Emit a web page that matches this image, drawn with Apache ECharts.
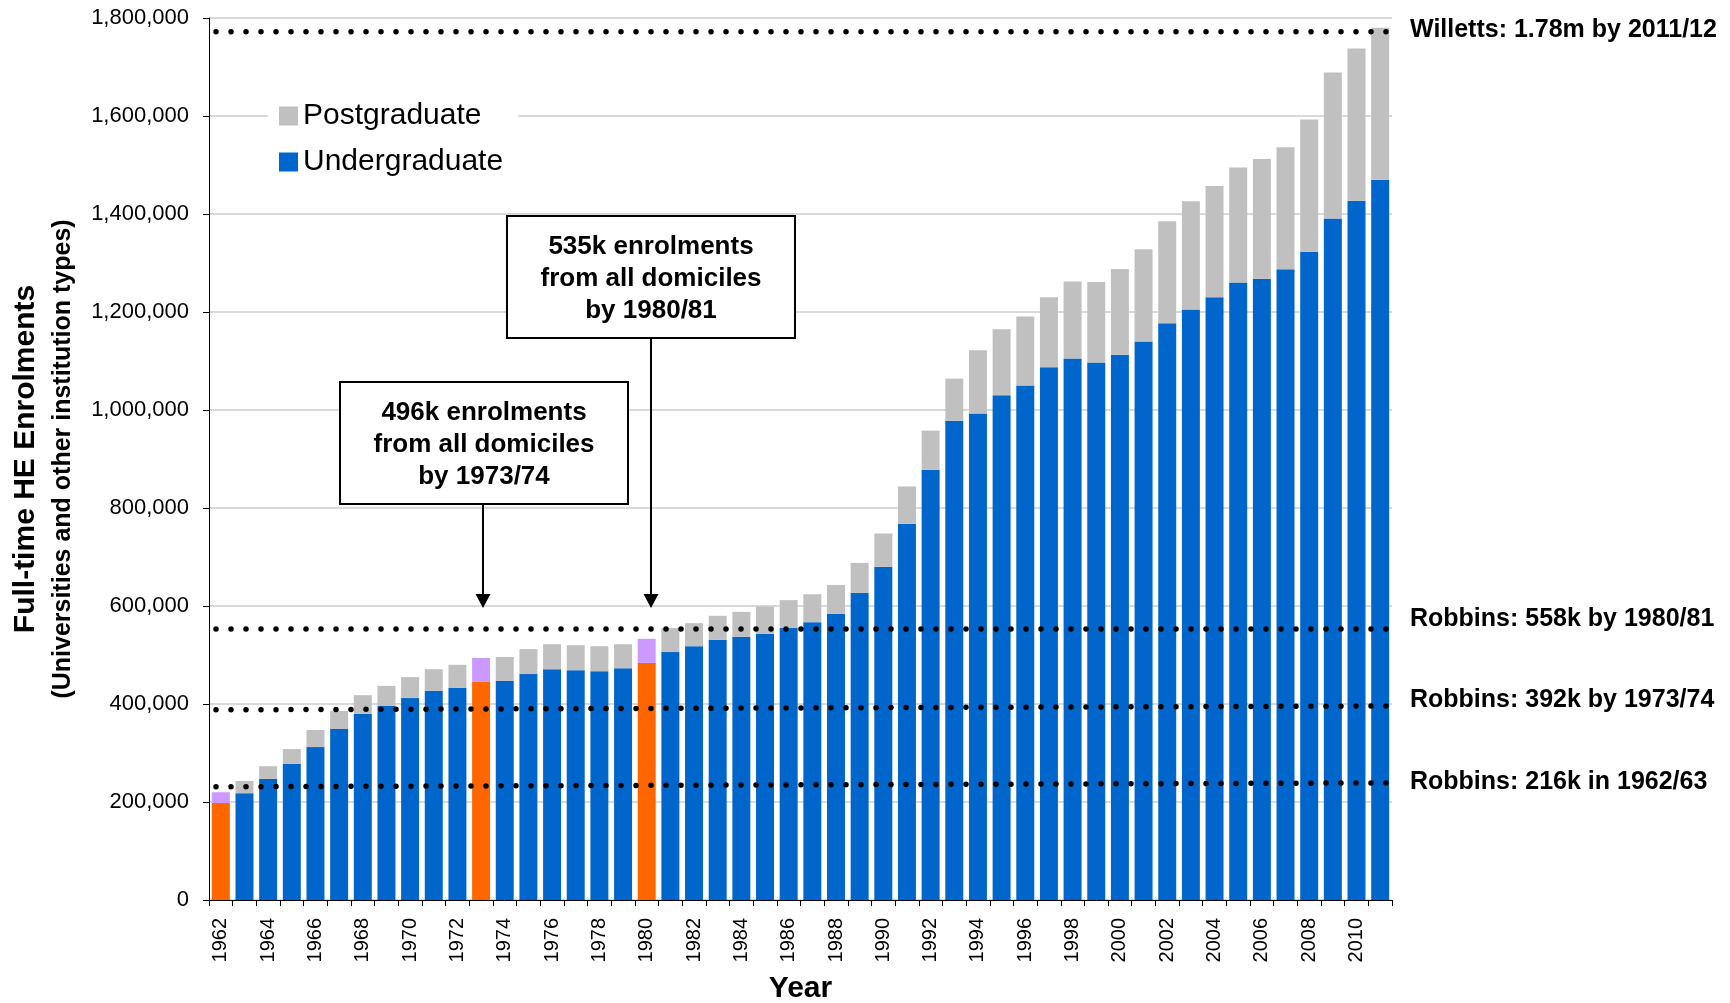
<!DOCTYPE html>
<html>
<head>
<meta charset="utf-8">
<script src="https://cdn.jsdelivr.net/npm/echarts@6/dist/echarts.min.js"></script>
<style>
html,body{margin:0;padding:0;background:#fff;}
#c{width:1730px;height:1003px;}
</style>
</head>
<body>
<div id="c"></div>
<script>
// ---------- DATA ----------
const years = ['1962','1963','1964','1965','1966','1967','1968','1969','1970','1971',
  '1972','1973','1974','1975','1976','1977','1978','1979','1980','1981',
  '1982','1983','1984','1985','1986','1987','1988','1989','1990','1991',
  '1992','1993','1994','1995','1996','1997','1998','1999','2000','2001',
  '2002','2003','2004','2005','2006','2007','2008','2009','2010','2011'];

const undergraduate = [198000,218000,247000,278000,312000,349000,380000,396000,412000,427000,
  433000,445000,447000,461000,471000,469000,467000,473000,484000,506000,
  518000,531000,537000,543000,555000,567000,584000,627000,680000,768000,
  878000,978000,993000,1030000,1050000,1087000,1105000,1097000,1113000,1140000,
  1177000,1205000,1230000,1260000,1268000,1287000,1323000,1391000,1427000,1470000];

const postgraduate = [22000,25000,26000,30000,35000,37000,38000,41000,43000,44000,
  47000,49000,49000,51000,51000,51000,51000,49000,49000,49000,
  47000,49000,51000,56000,57000,57000,59000,61000,68000,76000,
  80000,86000,129000,135000,141000,143000,157000,164000,175000,188000,
  208000,221000,227000,235000,244000,249000,270000,298000,311000,310000];

const highlightYears = ['1962','1973','1980'];

const refNames = ['Willetts: 1.78m by 2011/12','Robbins: 558k by 1980/81','Robbins: 392k by 1973/74','Robbins: 216k in 1962/63'];
const refStartValues = [1772000, 553000, 388000, 231000];
const refEndValues = [1772000, 553000, 396000, 239000];

const yTickMax = 1800000;
const yTickStep = 200000;

const note1973 = ['496k enrolments','from all domiciles','by 1973/74'];
const note1980 = ['535k enrolments','from all domiciles','by 1980/81'];

// ---------- STYLE ----------
const FONT = '"Liberation Sans", Arial, Helvetica, sans-serif';
const C = {ug:'#0066CC', pg:'#C0C0C0', ugHL:'#FF6600', pgHL:'#CC99FF'};
const refLabelDy = [-2, -10, -6, -1];

const chart = echarts.init(document.getElementById('c'), null, {renderer:'canvas'});
const isHL = i => highlightYears.indexOf(years[i]) >= 0;

const refSeries = refNames.map((n, k) => ({
  name: n,
  type: 'line',
  xAxisIndex: 1,
  yAxisIndex: 0,
  data: [[0, refStartValues[k]], [1, refEndValues[k]]],
  symbol: 'none',
  silent: true,
  z: 6,
  lineStyle: {color:'#000', width:5.5, type:[0,15], cap:'round', dashOffset:8},
  endLabel: {
    show: true, formatter: n, distance: 18, offset: [0, refLabelDy[k]],
    fontSize: 25, fontWeight: 'bold', color: '#000', fontFamily: FONT
  }
}));

const option = {
  animation: false,
  backgroundColor: '#fff',
  textStyle: {fontFamily: FONT},
  grid: {left: 209, right: 338, top: 18, bottom: 103, containLabel: false, outerBoundsMode: 'none'},
  legend: {
    data: ['Postgraduate', 'Undergraduate'],
    orient: 'vertical',
    left: 268, top: 91,
    padding: [10, 15, 10, 11],
    backgroundColor: '#fff',
    itemWidth: 19, itemHeight: 19, itemGap: 16,
    icon: 'rect',
    textStyle: {fontSize: 30, color: '#000', fontFamily: FONT},
    selectedMode: false
  },
  xAxis: [{
    type: 'category',
    data: years,
    name: 'Year',
    nameLocation: 'middle',
    nameGap: 74,
    nameTextStyle: {fontSize: 30, fontWeight: 'bold', color: '#000', fontFamily: FONT},
    axisLine: {lineStyle: {color: '#000', width: 1}},
    axisTick: {show: true, interval: 0, length: 6, lineStyle: {color: '#000'}},
    axisLabel: {interval: 1, rotate: 90, fontSize: 20, color: '#000', margin: 18, fontFamily: FONT}
  }, {
    type: 'value', min: 0, max: 1, show: false
  }],
  yAxis: {
    type: 'value', min: 0, max: yTickMax, interval: yTickStep,
    axisLine: {show: true, lineStyle: {color: '#000', width: 1}},
    axisTick: {show: true, length: 6, lineStyle: {color: '#000'}},
    axisLabel: {fontSize: 22, color: '#000', margin: 20, fontFamily: FONT,
      formatter: v => v.toLocaleString('en-US')},
    splitLine: {lineStyle: {color: '#d9d9d9', width: 2}}
  },
  series: [{
    name: 'Undergraduate', type: 'bar', stack: 'total', barCategoryGap: '24%',
    itemStyle: {color: C.ug},
    data: undergraduate.map((v, i) => ({value: v, itemStyle: {color: isHL(i) ? C.ugHL : C.ug}}))
  }, {
    name: 'Postgraduate', type: 'bar', stack: 'total',
    itemStyle: {color: C.pg},
    data: postgraduate.map((v, i) => ({value: v, itemStyle: {color: isHL(i) ? C.pgHL : C.pg}}))
  }].concat(refSeries),
  graphic: [
    {type:'text', x:26, y:459, rotation:Math.PI/2,
      style:{text:'Full-time HE Enrolments', fontSize:30, fontWeight:'bold', fontFamily:FONT, fill:'#000', align:'center', verticalAlign:'middle'}},
    {type:'text', x:63, y:459, rotation:Math.PI/2,
      style:{text:'(Universities and other institution types)', fontSize:25, fontWeight:'bold', fontFamily:FONT, fill:'#000', align:'center', verticalAlign:'middle'}},
    // 1980/81 box
    {type:'line', shape:{x1:651, y1:338, x2:651, y2:596}, style:{stroke:'#000', lineWidth:2}, z:10},
    {type:'polygon', shape:{points:[[643.5,594],[658.5,594],[651,608]]}, style:{fill:'#000'}, z:10},
    {type:'rect', shape:{x:507, y:216, width:288, height:122}, style:{fill:'#fff', stroke:'#000', lineWidth:2}, z:10},
    {type:'text', x:651, y:279, z:11,
      style:{text:note1980.join('\n'), fontSize:26, fontWeight:'bold', lineHeight:32, fontFamily:FONT, fill:'#000', align:'center', verticalAlign:'middle'}},
    // 1973/74 box
    {type:'line', shape:{x1:483, y1:504, x2:483, y2:596}, style:{stroke:'#000', lineWidth:2}, z:10},
    {type:'polygon', shape:{points:[[475.5,594],[490.5,594],[483,608]]}, style:{fill:'#000'}, z:10},
    {type:'rect', shape:{x:340, y:382, width:288, height:122}, style:{fill:'#fff', stroke:'#000', lineWidth:2}, z:10},
    {type:'text', x:484, y:444.5, z:11,
      style:{text:note1973.join('\n'), fontSize:26, fontWeight:'bold', lineHeight:32, fontFamily:FONT, fill:'#000', align:'center', verticalAlign:'middle'}}
  ]
};
chart.setOption(option);
</script>
</body>
</html>
